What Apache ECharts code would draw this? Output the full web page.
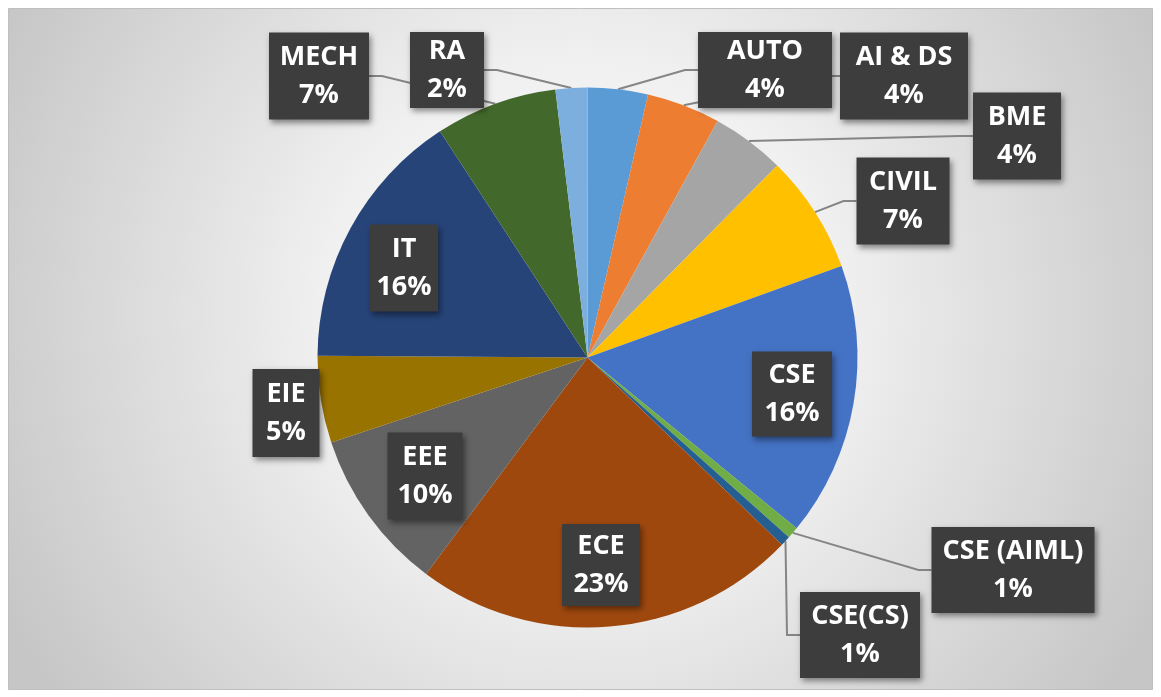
<!DOCTYPE html>
<html>
<head>
<meta charset="utf-8">
<script src="https://cdn.jsdelivr.net/npm/echarts@6/dist/echarts.min.js"></script>
<style>
html,body{margin:0;padding:0;background:#ffffff;}
#chart{width:1161px;height:697px;}
</style>
</head>
<body>
<div id="chart"></div>
<script>
// ---- data ----
const categories = ['AUTO', 'AI & DS', 'BME', 'CIVIL', 'CSE', 'CSE (AIML)', 'CSE(CS)', 'ECE', 'EEE', 'EIE', 'IT', 'MECH', 'RA'];
const values = [3.6, 4.4, 4.4, 7.1, 16.4, 0.7, 0.6, 23.0, 9.7, 5.2, 15.7, 7.3, 1.9];

// ---- styles / layout ----
const colors = ['#5B9BD5', '#ED7D31', '#A5A5A5', '#FFC000', '#4472C4', '#70AD47', '#255E91',
                '#9E480E', '#636363', '#997300', '#264478', '#43682B', '#7CAFDD'];
// label box: center x, center y, width, height
const boxes = {
  'AUTO':       [765, 70, 134, 76],
  'AI & DS':    [904, 76, 128, 87],
  'BME':        [1017, 136, 88, 87],
  'CIVIL':      [903, 201, 93, 87],
  'CSE':        [792, 394, 80, 85],
  'CSE (AIML)': [1013, 570, 163, 86],
  'CSE(CS)':    [860, 635, 120, 86],
  'ECE':        [601, 565, 78, 82],
  'EEE':        [425, 476, 75, 87],
  'EIE':        [286, 413, 67, 88],
  'IT':         [404, 268, 68, 87],
  'MECH':       [319, 76, 100, 87],
  'RA':         [447, 70, 74, 76]
};
const noLine = ['CSE', 'ECE', 'EEE', 'EIE', 'IT'];
const LH = 38;

const chart = echarts.init(document.getElementById('chart'), null, {renderer: 'canvas'});

const data = categories.map((name, i) => {
  const b = boxes[name];
  const pv = Math.max(0, (b[3] - 2 * LH) / 2);
  return {
    name: name,
    value: values[i],
    itemStyle: {color: colors[i]},
    label: {width: b[2], padding: [pv, 0, pv, 0]},
    labelLine: {show: noLine.indexOf(name) < 0}
  };
});

chart.setOption({
  animation: false,
  graphic: [{
    type: 'rect',
    z: -10,
    shape: {x: 8.5, y: 8.5, width: 1144, height: 681},
    style: {
      fill: {
        type: 'radial', x: 0.5, y: 0.45, r: 0.95,
        colorStops: [
          {offset: 0, color: '#fbfbfb'},
          {offset: 0.4, color: '#f0f0f0'},
          {offset: 1, color: '#c6c6c6'}
        ]
      },
      stroke: '#bfbfbf', lineWidth: 1
    }
  }],
  series: [{
    type: 'pie',
    center: [587.5, 357.5],
    radius: 270,
    startAngle: 90,
    clockwise: true,
    avoidLabelOverlap: false,
    itemStyle: {borderWidth: 0},
    emphasis: {disabled: true},
    label: {
      show: true,
      position: 'outside',
      formatter: function (p) { return p.name + '\n' + Math.round(p.percent) + '%'; },
      color: '#ffffff',
      fontFamily: 'Open Sans',
      fontWeight: 'bold',
      fontSize: 27,
      lineHeight: LH,
      align: 'center',
      backgroundColor: '#3d3d3d',
      shadowColor: 'rgba(0,0,0,0.45)',
      shadowBlur: 6,
      shadowOffsetX: 2,
      shadowOffsetY: 3,
      overflow: 'none'
    },
    labelLine: {
      show: true,
      lineStyle: {color: '#858585', width: 2}
    },
    labelLayout: function (params) {
      const name = categories[params.dataIndex];
      const b = boxes[name];
      const res = {x: b[0], y: b[1], align: 'center', verticalAlign: 'middle'};
      const pts = params.labelLinePoints;
      if (pts && pts.length && noLine.indexOf(name) < 0) {
        const edge = pts[0];
        const leftSide = b[0] < edge[0];
        const ax = leftSide ? b[0] + b[2] / 2 : b[0] - b[2] / 2;
        const ay = b[1];
        const bx = leftSide ? ax + 13 : ax - 13;
        res.labelLinePoints = [[edge[0], edge[1]], [bx, ay], [ax, ay]];
      }
      return res;
    },
    data: data
  }]
});
</script>
</body>
</html>
